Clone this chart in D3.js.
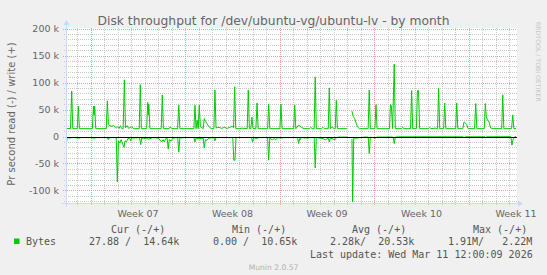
<!DOCTYPE html>
<html><head><meta charset="utf-8">
<script src="https://cdn.jsdelivr.net/npm/d3@7"></script>
<style>html,body{margin:0;padding:0;background:#f0f0f0;} svg{display:block;} text{white-space:pre;}</style>
</head><body><svg id="c" width="547" height="275"></svg>
<script>
// ---- data (days since 2026-02-07 00:00 UTC, value in k bytes/s) ----
const writeK = [
[0.17,15],[0.50,14.5],[0.59,84],[0.67,14.5],[1.00,14.5],[1.08,56],[1.16,14.5],
[2.12,14.5],[2.20,56],[2.25,40],[2.29,56],[2.37,14.5],
[3.15,14.5],[3.23,66],[3.31,22],[3.50,19],[3.70,20],[3.90,16],[4.00,18],[4.10,15],[4.20,20],[4.30,14.5],
[4.40,14.5],[4.49,105],[4.57,16],[4.70,20],[4.80,15],[5.00,18],[5.20,14.5],
[5.59,14.5],[5.67,96],[5.75,14.5],[6.14,14.5],[6.22,63],[6.27,40],[6.30,60],[6.38,14.5],
[6.80,14.5],[7.22,14.5],[7.30,77],[7.38,14.5],[7.80,14.5],[7.90,18],[8.00,14.5],
[8.43,14.5],[8.52,58],[8.60,14.5],
[9.64,14.5],[9.72,58],[9.80,14.5],[9.88,30],[9.96,14.5],[10.04,58],[10.12,18],
[10.33,14.5],[10.41,33],[10.50,28],[10.60,24],[10.70,20],[10.80,18],[10.90,14.5],
[11.12,14.5],[11.20,86],[11.28,16],[11.50,17],[11.70,15],[11.90,17],[12.10,15],[12.30,17],[12.50,19],
[12.58,16],[12.66,92],[12.74,14.5],[13.00,14.5],[13.20,15.5],[13.59,14.5],[13.67,86],[13.75,14.5],
[13.86,14.5],[13.94,36],[14.02,14.5],[14.23,14.5],[14.32,62],[14.40,14.5],
[15.10,14.5],[15.18,60],[15.26,14.5],[16.01,14.5],[16.09,60],[16.17,14.5],
[17.03,14.5],[17.11,58],[17.19,14.5],[17.40,21],[17.60,17],[17.80,14.5],[18.20,14.5],[18.30,17],[18.40,14.5],
[18.55,14.5],[18.63,110],[18.71,14.5],[19.10,14.5],[19.20,17],[19.30,14.5],
[19.59,14.5],[19.67,90],[19.75,14.5],[19.90,18],[20.00,14.5],[20.11,14.5],[20.19,67],[20.27,14.5],
[20.98,14.5],[21.03,null],
[21.35,47],[21.45,37],[21.55,33],[21.75,18],[21.90,14.5],
[22.55,14.5],[22.63,86],[22.71,14.5],[23.05,14.5],[23.13,59],[23.21,14.5],
[24.13,14.5],[24.20,59],[24.27,57],[24.36,14.5],[24.48,134],[24.56,14.5],
[25.00,14.5],[25.10,17],[25.20,14.5],[25.69,14.5],[25.77,85],[25.85,14.5],
[26.12,14.5],[26.20,85],[26.28,85],[26.36,14.5],
[27.00,14.5],[27.10,17],[27.20,14.5],[27.50,15.5],[27.69,14.5],[27.77,89],[27.85,14.5],
[28.14,14.5],[28.22,62],[28.30,14.5],[29.03,14.5],[29.11,62],[29.19,14.5],
[29.56,14.5],[29.65,27],[29.75,25],[29.85,22],[29.95,14.5],
[30.43,14.5],[30.52,61],[30.60,14.5],[31.15,14.5],[31.23,61],[31.30,36],[31.40,30],[31.50,27],[31.62,16],[31.80,14.5],
[32.44,14.5],[32.52,77],[32.60,14.5],[33.17,14.5],[33.26,40],[33.34,14.5],[33.50,14.64]
];
const readK = [
[0.17,13],[0.24,4],[0.32,2],[0.45,3],[0.60,2],[0.80,2],[1.10,3],[1.30,2],[2.00,2],[2.20,3],[2.50,2],
[3.22,2],[3.30,6],[3.38,2],[3.89,2],[3.97,84],[4.05,8],[4.15,12],[4.25,6],[4.38,15],[4.46,20],[4.54,8],
[4.65,10],[4.75,4],[4.88,3],[4.96,8],[5.04,3],[5.62,2],[5.70,15],[5.78,3],[5.90,4],[6.10,3],[6.30,5],[6.60,2],
[7.00,3],[7.25,10],[7.35,6],[7.45,10],[7.55,4],[7.66,3],[7.74,23],[7.82,6],[7.95,8],[8.10,3],
[8.44,2],[8.52,29],[8.60,3],[8.90,2],[9.20,2],[9.64,2],[9.72,10],[9.80,3],[9.95,4],
[10.33,3],[10.41,21],[10.49,6],[10.60,7],[10.75,3],[11.12,2],[11.20,8],[11.28,2],[11.70,2],[12.00,2],
[12.52,2],[12.60,44],[12.68,44],[12.76,2],[13.20,2],[13.91,2],[13.99,10],[14.07,2],[14.30,4],[14.40,2],
[15.10,2],[15.18,44],[15.26,3],[15.45,6],[15.60,4],[15.70,6],[15.85,2],[16.10,3],[16.30,2],[17.00,2],
[17.32,2],[17.40,13],[17.48,4],[17.52,6],[17.60,2],[18.10,3],[18.20,2],
[18.55,2],[18.63,58],[18.71,2],[19.20,4],[19.40,6],[19.59,3],[19.67,10],[19.75,3],[20.10,6],[20.20,2],[20.40,1],
[20.98,1],[21.03,null],
[21.35,5],[21.40,121],[21.48,3],[21.70,3],[22.00,2],[22.30,1],[22.55,1],[22.63,31],[22.71,1],
[23.10,3],[23.20,1],[24.40,1],[24.48,13],[24.56,1],[25.00,0.5],
[29.60,0.5],[29.65,2],[29.75,0.5],[31.20,0.5],[31.25,2],[31.35,0.5],
[33.12,0.3],[33.20,16],[33.28,6],[33.40,0.5],[33.50,0.03]
];
const yTicksMajor = [-100,-50,0,50,100,150,200];
const weekStarts = ["2026-02-09","2026-02-16","2026-02-23","2026-03-02","2026-03-09"];
const weekLabels = ["Week 07","Week 08","Week 09","Week 10","Week 11"];
const legendHeaders = ["Cur (-/+)","Min (-/+)","Avg (-/+)","Max (-/+)"];
const legendValues = ["27.88 /  14.64k","0.00 /  10.65k","2.28k/  20.53k","1.91M/   2.22M"];
const seriesName = "Bytes";
const titleText = "Disk throughput for /dev/ubuntu-vg/ubuntu-lv - by month";
const yTitle = "Pr second read (-) / write (+)";
const lastUpdate = "Last update: Wed Mar 11 12:00:09 2026";
const footer = "Munin 2.0.57";
const watermark = "RRDTOOL / TOBI OETIKER";

// ---- layout ----
const L = 66, R = 517, T = 28, B = 203;
const base = Date.UTC(2026,1,7);
const dayToDate = d => new Date(base + d*864e5);
const x = d3.scaleUtc().domain([new Date(Date.UTC(2026,1,7,4)), new Date(Date.UTC(2026,2,12,13,48))]).range([L,R]);
const y = d3.scaleLinear().domain([-123.15, 200.93]).range([B,T]);

const svg = d3.select("#c");
svg.append("rect").attr("width",547).attr("height",275).attr("fill","#f0f0f0");
svg.append("rect").attr("x",L).attr("y",T).attr("width",R-L).attr("height",B-T).attr("fill","#ffffff");

const g = svg.append("g");
const px = v => Math.round(v)+0.5;
// minor horizontal grid
d3.range(-120,201,10).filter(v=>v%50!==0).forEach(v=>{
  g.append("line").attr("x1",L-2).attr("x2",R).attr("y1",px(y(v))).attr("y2",px(y(v)))
   .attr("stroke","#c8c8c8").attr("stroke-dasharray","1,1");
});
// minor vertical grid (days)
d3.utcDay.range(x.domain()[0], x.domain()[1]).forEach(d=>{
  if (d.getUTCDay()===1) return;
  g.append("line").attr("x1",px(x(d))).attr("x2",px(x(d))).attr("y1",T).attr("y2",B+2)
   .attr("stroke","#c8c8c8").attr("stroke-dasharray","1,1");
});
// major horizontal
yTicksMajor.forEach(v=>{
  g.append("line").attr("x1",L-3).attr("x2",R).attr("y1",px(y(v))).attr("y2",px(y(v)))
   .attr("stroke","#f0a0a0").attr("stroke-dasharray","1,1");
});
// major vertical
weekStarts.forEach(s=>{
  const d = new Date(s+"T00:00:00Z");
  g.append("line").attr("x1",px(x(d))).attr("x2",px(x(d))).attr("y1",T).attr("y2",B+3)
   .attr("stroke","#f0a0a0").attr("stroke-dasharray","1,1");
});

// y tick labels
yTicksMajor.forEach(v=>{
  svg.append("text").attr("x",59).attr("y",y(v)+3.5).attr("text-anchor","end")
    .attr("font-family","DejaVu Sans").attr("font-size",9.5).attr("fill","#666")
    .text(v===0?"0":v+" k");
});
// week labels
weekStarts.forEach((s,i)=>{
  const d0 = new Date(s+"T00:00:00Z");
  const mid = new Date(d0.getTime()+3.5*864e5);
  svg.append("text").attr("x",x(mid)).attr("y",216.5).attr("text-anchor","middle")
    .attr("font-family","DejaVu Sans").attr("font-size",9.5).attr("fill","#666")
    .text(weekLabels[i]);
});

// data lines
const line = d3.line().defined(d=>d[1]!==null).x(d=>x(dayToDate(d[0]))).y(d=>y(d[1]));
const clip = svg.append("clipPath").attr("id","pc").append("rect").attr("x",L).attr("y",T).attr("width",R-L).attr("height",B-T);
svg.append("path").datum(readK.map(d=>[d[0], d[1]===null?null:-d[1]])).attr("d",line)
  .attr("fill","none").attr("stroke","#00cc00").attr("stroke-width",1).attr("clip-path","url(#pc)");
svg.append("path").datum(writeK).attr("d",line)
  .attr("fill","none").attr("stroke","#00cc00").attr("stroke-width",1).attr("clip-path","url(#pc)");
// zero line
svg.append("line").attr("x1",L).attr("x2",R).attr("y1",px(y(0))-0.5+0.5).attr("y2",px(y(0)))
  .attr("stroke","#000").attr("stroke-width",1);

// axes
svg.append("line").attr("x1",L-4).attr("x2",R+2).attr("y1",px(B)).attr("y2",px(B)).attr("stroke","#cfd6f8");
svg.append("line").attr("x1",px(L)).attr("x2",px(L)).attr("y1",B+4).attr("y2",T-3).attr("stroke","#cfd6f8");
svg.append("path").attr("d",`M${R+1},${B-2.5}L${R+6},${B+0.5}L${R+1},${B+3.5}Z`).attr("fill","#cfd6f8");
svg.append("path").attr("d",`M${L-2.5},${T-3}L${L+0.5},${T-8}L${L+3.5},${T-3}Z`).attr("fill","#cfd6f8");

// title
svg.append("text").attr("x",273.5).attr("y",25).attr("text-anchor","middle")
  .attr("font-family","DejaVu Sans").attr("font-size",12.3).attr("fill","#666").text(titleText);
// y title
svg.append("text").attr("transform","translate(14.5,114) rotate(-90)").attr("text-anchor","middle")
  .attr("font-family","DejaVu Sans").attr("font-size",10).attr("fill","#666").text(yTitle);
// watermark
svg.append("text").attr("transform","translate(535.5,22) rotate(90)").attr("text-anchor","start")
  .attr("font-family","DejaVu Sans").attr("font-size",6.2).attr("fill","#c8c8c8").text(watermark);

// legend
const mono = {"font-family":"DejaVu Sans Mono","font-size":10,"fill":"#555"};
function t(xx,yy,s,anchor){
  const e = svg.append("text").attr("x",xx).attr("y",yy).attr("text-anchor",anchor||"start").text(s);
  Object.entries(mono).forEach(([k,v])=>e.attr(k,v));
  return e;
}
const hx = [111,232,352,473], vx = [89,213,330,448];
legendHeaders.forEach((h,i)=>t(hx[i],232.5,h));
svg.append("rect").attr("x",14).attr("y",238.5).attr("width",5.5).attr("height",5.5).attr("fill","#00cc00");
t(26,245,seriesName);
legendValues.forEach((v,i)=>t(vx[i],245,v));
t(532.7,258,lastUpdate,"end");
svg.append("text").attr("x",273.5).attr("y",270).attr("text-anchor","middle")
  .attr("font-family","DejaVu Sans").attr("font-size",7.6).attr("fill","#b0b0b0").text(footer);
</script></body></html>
